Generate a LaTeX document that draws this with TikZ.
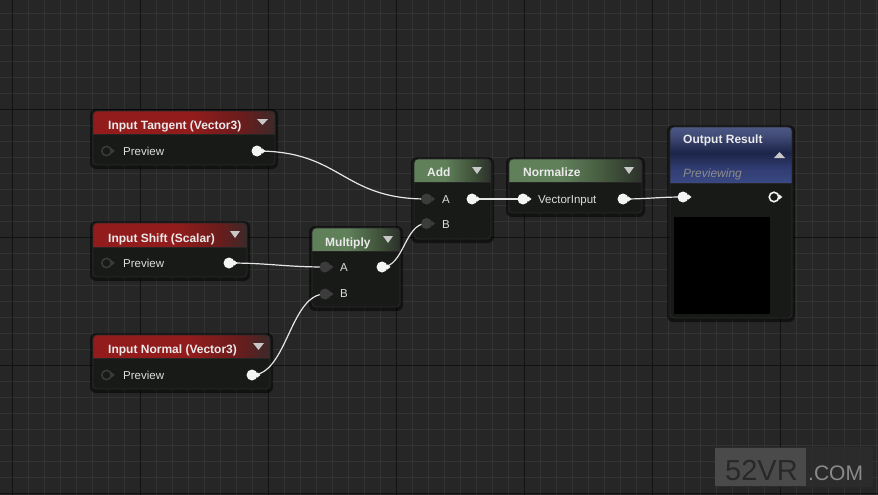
\documentclass[tikz,border=0pt]{standalone}
\usepackage{fontspec}
\setmainfont{Liberation Sans}
\usetikzlibrary{fit}
\definecolor{bgc}{HTML}{262626}
\definecolor{minorc}{HTML}{333333}
\definecolor{majorc}{HTML}{121212}
\definecolor{bodyc}{HTML}{181a18}
\definecolor{borderc}{HTML}{2A2C2A}
\definecolor{titlec}{HTML}{EAEAEA}
\definecolor{labelc}{HTML}{DCDCDC}
\definecolor{pinwhite}{HTML}{F4F4F4}
\definecolor{ringgrey}{HTML}{3A3A3A}
\definecolor{pingrey}{HTML}{3C3C3C}
\definecolor{wirec}{HTML}{E6E6E6}
\definecolor{tric}{HTML}{C8C8C8}
\definecolor{redA}{HTML}{921C1C}
\definecolor{redB}{HTML}{6A1C1C}
\definecolor{redC}{HTML}{3C2A2A}
\definecolor{grnA}{HTML}{60805A}
\definecolor{grnB}{HTML}{3E5038}
\definecolor{grnC}{HTML}{2C302C}
\definecolor{bluTop}{HTML}{4C5784}
\definecolor{bluMid}{HTML}{1C2448}
\definecolor{bluBot}{HTML}{3A4884}
\definecolor{prevc}{HTML}{8C8C8C}
\definecolor{wmbg}{HTML}{2C2C2C}
\definecolor{wmbox}{HTML}{4A4A4A}
\definecolor{wmtext}{HTML}{282828}
\definecolor{wmcom}{HTML}{8A8A8A}
\pgfdeclarehorizontalshading{redshade}{100bp}{color(0bp)=(redA); color(25bp)=(redA); color(52bp)=(redA); color(66bp)=(redB); color(75bp)=(redC); color(100bp)=(redC)}
\pgfdeclarehorizontalshading{grnshade}{100bp}{color(0bp)=(grnA); color(25bp)=(grnA); color(45bp)=(grnA); color(64bp)=(grnB); color(75bp)=(grnC); color(100bp)=(grnC)}
\pgfdeclareverticalshading{blushade}{100bp}{color(0bp)=(bluBot); color(25bp)=(bluBot); color(38bp)=(bluBot!70!bluMid); color(52bp)=(bluMid); color(68bp)=(bluTop!80!bluMid); color(75bp)=(bluTop); color(100bp)=(bluTop)}
\pgfdeclarelayer{bglayer}
\pgfdeclarelayer{wirelayer}
\pgfsetlayers{bglayer,wirelayer,main}
\tikzset{
  minorline/.style={minorc, line width=1pt},
  majorline/.style={majorc, line width=1.6pt},
  titletext/.style={font=\bfseries\fontsize{12}{14}\selectfont, text=titlec, anchor=base west, inner sep=0},
  pintext/.style={font=\fontsize{11.5}{13}\selectfont, text=labelc, anchor=base west, inner sep=0},
  pinbase/.style={circle, inner sep=0, minimum size=11pt},
  outpin/.style={pinbase, fill=pinwhite},
  ringpin/.style={pinbase, minimum size=9.5pt, draw=ringgrey, line width=1.5pt},
  greypin/.style={pinbase, fill=pingrey},
  whitepin/.style={pinbase, fill=pinwhite},
  whiteringpin/.style={pinbase, minimum size=9.5pt, draw=pinwhite, line width=1.6pt},
  wire/.style={wirec, line width=1.2pt},
  redhead/.style={shading=redshade},
  grnhead/.style={shading=grnshade},
  bluhead/.style={shading=blushade},
}
% name, x1, y1, x2, y2, header bottom, header shading
\newcommand{\uenode}[7]{%
  \fill[black, opacity=.5, rounded corners=6pt] (#2-3,#3-2) rectangle (#4+3,#5+4);
  \node[fit={(#2,#3) (#4,#5)}, inner sep=0, fill=bodyc, rounded corners=4pt] (#1) {};
  \begin{scope}
    \clip[rounded corners=4pt] (#2,#3) rectangle (#4,#5);
    \shade[#7] (#2,#3) rectangle (#4,#6);
    \draw[black!85, line width=.6pt] (#2,#6) -- (#4,#6);
  \end{scope}
  \draw[borderc, line width=.8pt, rounded corners=4pt] (#2,#3) rectangle (#4,#5);
}
% down triangle: x1, x2, ytop, ybottom
\newcommand{\downtri}[4]{\fill[tric] (#1,#3) -- (#2,#3) -- ({(#1+#2)/2},#4) -- cycle;}
\newcommand{\pinarrow}[2]{\fill[#2] ([xshift=-0.8pt,yshift=2.8pt]#1.east) -- ([xshift=2.8pt]#1.east) -- ([xshift=-0.8pt,yshift=-2.8pt]#1.east) -- cycle;}
\begin{document}
\begin{tikzpicture}[x=1pt,y=-1pt]
\useasboundingbox (0,0) rectangle (878,495);
\begin{pgfonlayer}{bglayer}
\fill[bgc] (0,0) rectangle (878,495);
\begin{scope}
  \clip (0,0) rectangle (878,495);
  \foreach \x in {12.5,28.5,...,876.5} \draw[minorline] (\x,0) -- (\x,495);
  \foreach \y in {13.5,29.5,...,493.5} \draw[minorline] (0,\y) -- (878,\y);
  \foreach \x in {12.5,140.5,...,780.5} \draw[majorline] (\x,0) -- (\x,495);
  \foreach \y in {109.5,237.5,365.5,493.5} \draw[majorline] (0,\y) -- (878,\y);
\end{scope}
% node bodies
\uenode{tan}{93}{111}{275}{165}{134}{redhead}
\uenode{shf}{93}{223}{247}{277}{247}{redhead}
\uenode{nrm}{93}{335}{270}{389}{358}{redhead}
\uenode{mul}{312}{228}{400}{307}{251}{grnhead}
\uenode{add}{414}{159}{491}{239}{182}{grnhead}
\uenode{nzl}{509}{159}{642}{213}{182}{grnhead}
\uenode{out}{670}{127}{792}{318}{183}{bluhead}
\node[fit={(674,217) (770,314)}, inner sep=0, fill=black] (prev) {};
\end{pgfonlayer}

% titles
\node[titletext] (tant) at (108,129) {Input Tangent (Vector3)};
\node[titletext] (shft) at (108,242) {Input Shift (Scalar)};
\node[titletext] (nrmt) at (108,353) {Input Normal (Vector3)};
\node[titletext] (mult) at (325,246) {Multiply};
\node[titletext] (addt) at (427,176) {Add};
\node[titletext] (nzlt) at (523,176) {Normalize};
\node[titletext] (outt) at (683,143) {Output Result};
\node[font=\itshape\fontsize{12}{14}\selectfont, text=prevc, anchor=base west, inner sep=0] (outp) at (683,177) {Previewing};

\downtri{257}{268}{119}{125}
\downtri{230}{240}{231}{238}
\downtri{253}{264}{343}{350}
\downtri{383}{393}{236}{243}
\downtri{472}{482}{167}{174}
\downtri{624}{634}{167}{174}
\fill[tric] (774,158) -- (785,158) -- (779.5,152) -- cycle;

% pin labels
\node[pintext] (tanl) at (123,155) {Preview};
\node[pintext] (shfl) at (123,267.5) {Preview};
\node[pintext] (nrml) at (123,379) {Preview};
\node[pintext] (mulal) at (340,271.5) {A};
\node[pintext] (mulbl) at (340,297.5) {B};
\node[pintext] (addal) at (442,203.5) {A};
\node[pintext] (addbl) at (442,228.5) {B};
\node[pintext] (nzll) at (538,203.5) {VectorInput};

% pins
\node[ringpin] (tanin) at (106.5,151) {};   \pinarrow{tanin}{ringgrey}
\node[outpin] (tanout) at (257,151) {};     \pinarrow{tanout}{pinwhite}
\node[ringpin] (shfin) at (106.5,263) {};   \pinarrow{shfin}{ringgrey}
\node[outpin] (shfout) at (229,263) {};     \pinarrow{shfout}{pinwhite}
\node[ringpin] (nrmin) at (106.5,375) {};   \pinarrow{nrmin}{ringgrey}
\node[outpin] (nrmout) at (252,375) {};     \pinarrow{nrmout}{pinwhite}
\node[greypin] (mula) at (325,267) {};      \pinarrow{mula}{pingrey}
\node[greypin] (mulb) at (325,294) {};      \pinarrow{mulb}{pingrey}
\node[outpin] (mulout) at (382,267) {};     \pinarrow{mulout}{pinwhite}
\node[greypin] (adda) at (426.5,199) {};    \pinarrow{adda}{pingrey}
\node[greypin] (addb) at (426.5,223.5) {};  \pinarrow{addb}{pingrey}
\node[outpin] (addout) at (472,199) {};     \pinarrow{addout}{pinwhite}
\node[whitepin] (nzlin) at (523,199) {};    \pinarrow{nzlin}{pinwhite}
\node[outpin] (nzlout) at (623,199) {};     \pinarrow{nzlout}{pinwhite}
\node[whitepin] (outin) at (683,197) {};    \pinarrow{outin}{pinwhite}
\node[whiteringpin] (outout) at (774,197) {}; \pinarrow{outout}{pinwhite}

% wires
\begin{pgfonlayer}{wirelayer}
\draw[wire] (tanout.center) .. controls +(85,0) and +(-85,0) .. (adda.center);
\draw[wire] (shfout.center) .. controls +(40,0) and +(-40,0) .. (mula.center);
\draw[wire] (nrmout.center) .. controls +(35,0) and +(-35,0) .. (mulb.center);
\draw[wire] (mulout.center) .. controls +(22,0) and +(-22,0) .. (addb.center);
\draw[wire] (addout.center) -- (nzlin.center);
\draw[wire] (nzlout.center) .. controls +(25,0) and +(-25,0) .. (outin.center);
\end{pgfonlayer}

% watermark
\node[fit={(715,447) (873,487)}, inner sep=0, fill=wmbg, opacity=.85, rounded corners=3pt] (wm) {};
\node[fit={(715,448) (806,486)}, inner sep=0, fill=wmbox] (wmb) {};
\node[font=\fontsize{29}{30}\selectfont, text=wmtext, anchor=base west, inner sep=0] (wm52) at (725,480) {52VR};
\node[font=\fontsize{21}{22}\selectfont, text=wmcom, anchor=base west, inner sep=0] (wmc) at (808,480) {.COM};
\end{tikzpicture}
\end{document}
